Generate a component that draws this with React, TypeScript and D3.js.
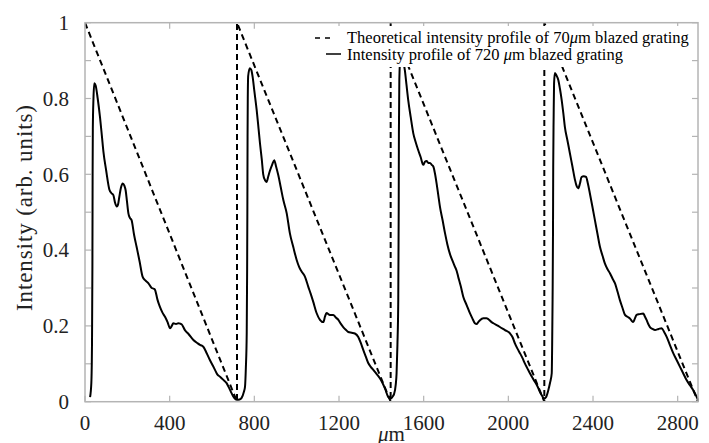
import React from "react";
import * as d3 from "d3";

// Theoretical sawtooth (dashed) breakpoints
const theoX = [0, 718, 718, 1444, 1444, 2170, 2170, 2896];
const theoY = [1, 0, 1, 0, 1, 0, 1, 0];

// Measured intensity profile (solid)
const solidX = [
  24, 30, 33, 35, 36, 37, 40, 44, 50, 60, 71, 80, 87, 100, 115, 125, 134, 142, 150, 156, 162, 170, 178, 186, 192, 198,
  205, 212, 220, 232, 244, 258, 272, 285, 299, 315, 325, 331, 342, 354, 366, 378, 390, 402, 410, 417, 430, 441, 450,
  457, 472, 490, 512, 530, 543, 552, 559, 575, 590, 605, 614, 625, 638, 655, 669, 680, 693, 705, 717, 730, 740, 750,
  756, 760, 764, 766, 767, 768, 769, 771, 779, 786, 792, 800, 811, 820, 827, 835, 842, 850, 858, 866, 874, 884, 894,
  903, 913, 925, 937, 953, 968, 984, 1000, 1012, 1024, 1039, 1055, 1066, 1078, 1094, 1110, 1126, 1134, 1141, 1157,
  1173, 1185, 1197, 1208, 1220, 1232, 1244, 1260, 1275, 1291, 1303, 1315, 1327, 1338, 1350, 1362, 1378, 1393, 1405,
  1417, 1433, 1444, 1455, 1460, 1468, 1472, 1476, 1480, 1482, 1483, 1485, 1490, 1496, 1503, 1511, 1519, 1527, 1539,
  1551, 1562, 1574, 1586, 1598, 1606, 1614, 1622, 1630, 1638, 1646, 1654, 1661, 1669, 1677, 1689, 1701, 1712, 1724,
  1736, 1748, 1756, 1763, 1775, 1787, 1803, 1819, 1830, 1842, 1850, 1858, 1866, 1882, 1897, 1905, 1921, 1929, 1952,
  1960, 1984, 2008, 2020, 2031, 2043, 2055, 2067, 2078, 2090, 2102, 2114, 2126, 2138, 2149, 2160, 2168, 2178, 2189,
  2197, 2205, 2207, 2209, 2211, 2212, 2214, 2216, 2220, 2228, 2236, 2244, 2252, 2260, 2267, 2279, 2291, 2303, 2315,
  2322, 2330, 2338, 2346, 2356, 2367, 2376, 2385, 2397, 2409, 2421, 2433, 2445, 2456, 2468, 2480, 2492, 2504, 2516,
  2527, 2539, 2551, 2563, 2574, 2582, 2590, 2598, 2606, 2620, 2637, 2645, 2653, 2661, 2669, 2681, 2693, 2710, 2724,
  2736, 2748, 2763, 2779, 2795, 2811, 2826, 2842, 2857, 2873, 2885, 2896,
];
const solidY = [
  0.012, 0.05, 0.15, 0.36, 0.6, 0.72, 0.8, 0.84, 0.835, 0.8, 0.75, 0.7, 0.66, 0.61, 0.56, 0.55, 0.545, 0.525, 0.515,
  0.52, 0.54, 0.565, 0.576, 0.57, 0.558, 0.53, 0.497, 0.485, 0.479, 0.44, 0.408, 0.37, 0.33, 0.32, 0.313, 0.3, 0.298,
  0.295, 0.27, 0.25, 0.235, 0.224, 0.21, 0.194, 0.2, 0.207, 0.205, 0.207, 0.206, 0.204, 0.189, 0.178, 0.163, 0.155,
  0.15, 0.148, 0.145, 0.128, 0.11, 0.094, 0.084, 0.072, 0.066, 0.057, 0.049, 0.037, 0.022, 0.01, 0.005, 0.006, 0.01,
  0.025, 0.04, 0.09, 0.18, 0.35, 0.5, 0.7, 0.8, 0.86, 0.88, 0.875, 0.857, 0.82, 0.77, 0.72, 0.68, 0.64, 0.6, 0.585,
  0.58, 0.595, 0.61, 0.625, 0.637, 0.62, 0.598, 0.565, 0.532, 0.497, 0.444, 0.408, 0.374, 0.355, 0.343, 0.33, 0.303,
  0.285, 0.264, 0.234, 0.216, 0.21, 0.225, 0.234, 0.229, 0.229, 0.222, 0.216, 0.206, 0.197, 0.19, 0.184, 0.182, 0.18,
  0.171, 0.155, 0.136, 0.118, 0.102, 0.092, 0.084, 0.073, 0.062, 0.05, 0.035, 0.012, 0.008, 0.015, 0.02, 0.045, 0.075,
  0.15, 0.27, 0.5, 0.71, 0.85, 0.91, 0.92, 0.9, 0.875, 0.835, 0.796, 0.75, 0.708, 0.685, 0.664, 0.645, 0.625, 0.633,
  0.635, 0.63, 0.63, 0.625, 0.62, 0.6, 0.576, 0.545, 0.514, 0.48, 0.444, 0.415, 0.39, 0.372, 0.356, 0.345, 0.33,
  0.305, 0.277, 0.255, 0.233, 0.22, 0.207, 0.205, 0.21, 0.215, 0.22, 0.22, 0.218, 0.21, 0.207, 0.2, 0.197, 0.189,
  0.18, 0.17, 0.154, 0.14, 0.128, 0.115, 0.101, 0.088, 0.075, 0.063, 0.052, 0.04, 0.026, 0.015, 0.008, 0.012, 0.031,
  0.05, 0.075, 0.15, 0.27, 0.45, 0.62, 0.75, 0.84, 0.867, 0.86, 0.849, 0.825, 0.796, 0.76, 0.725, 0.69, 0.655, 0.62,
  0.585, 0.57, 0.563, 0.575, 0.593, 0.595, 0.593, 0.575, 0.55, 0.515, 0.479, 0.443, 0.408, 0.385, 0.365, 0.35, 0.339,
  0.325, 0.312, 0.29, 0.268, 0.248, 0.229, 0.224, 0.22, 0.214, 0.21, 0.22, 0.229, 0.231, 0.233, 0.225, 0.216, 0.205,
  0.197, 0.192, 0.189, 0.192, 0.194, 0.184, 0.171, 0.15, 0.128, 0.11, 0.092, 0.075, 0.057, 0.044, 0.031, 0.018, 0.005,
];

const xTicks = [0, 400, 800, 1200, 1600, 2000, 2400, 2800];
const yMinorTicks = [0, 0.1, 0.2, 0.3, 0.4, 0.5, 0.6, 0.7, 0.8, 0.9, 1];
const yLabels = [0, 0.2, 0.4, 0.6, 0.8, 1];
const legendLabels = ["Theoretical intensity profile of 70", "Intensity profile of 720 "];

const W = 709;
const H = 443;
const L = 85;
const R = 698;
const T = 22.7;
const B = 401.7;
const FONT = "Liberation Serif, Times New Roman, DejaVu Serif, serif";
const fs = (size: number, italic = false): React.CSSProperties => ({
  fontFamily: FONT,
  fontSize: size + "px",
  fontStyle: italic ? "italic" : "normal",
});

export default function App() {
  const x = d3.scaleLinear().domain([0, 2896]).range([L, R]);
  const y = d3.scaleLinear().domain([0, 1]).range([B, T]);

  const theo = theoX.map((v, i) => [v, theoY[i]] as [number, number]);
  const solid = solidX.map((v, i) => [v, solidY[i]] as [number, number]);

  const lineLin = d3
    .line<[number, number]>()
    .x((d) => x(d[0]))
    .y((d) => y(d[1]));
  const lineSmooth = d3
    .line<[number, number]>()
    .x((d) => x(d[0]))
    .y((d) => y(d[1]))
    .curve(d3.curveMonotoneX);

  const gray = "#b4b4b4";
  const fmt = (v: number) => (v === 0 || v === 1 ? String(v) : v.toFixed(1));

  return (
    <svg width={W} height={H} style={{ position: "absolute", left: 0, top: 0, background: "#fff" }}>
      <rect x={0} y={0} width={W} height={H} fill="#fff" />
      <defs>
        <clipPath id="plot">
          <rect x={L} y={T - 1} width={R - L + 1} height={B - T + 2} />
        </clipPath>
      </defs>

      {/* ticks */}
      {xTicks.map((t) => (
        <g key={"xt" + t}>
          <line x1={x(t)} x2={x(t)} y1={B} y2={B - 6} stroke={gray} strokeWidth={1.2} />
          <line x1={x(t)} x2={x(t)} y1={T} y2={T + 6} stroke={gray} strokeWidth={1.2} />
        </g>
      ))}
      {yMinorTicks.map((t) => (
        <g key={"yt" + t}>
          <line x1={L} x2={L + 6} y1={y(t)} y2={y(t)} stroke={gray} strokeWidth={1.2} />
          <line x1={R} x2={R - 6} y1={y(t)} y2={y(t)} stroke={gray} strokeWidth={1.2} />
        </g>
      ))}

      {/* data */}
      <g clipPath="url(#plot)">
        <path d={lineSmooth(solid) || ""} fill="none" stroke="#000" strokeWidth={2} strokeLinejoin="round" />
        <path d={lineLin(theo) || ""} fill="none" stroke="#000" strokeWidth={2} strokeDasharray="6,4" />
      </g>

      {/* legend */}
      <rect x={306} y={26} width={385} height={41} fill="#fff" />
      <line x1={315} x2={331} y1={38} y2={38} stroke="#000" strokeWidth={1.5} strokeDasharray="5,5" />
      <line x1={326} x2={341} y1={54} y2={54} stroke="#000" strokeWidth={1.5} />
      <text x={347} y={43} style={fs(16.5)} fill="#000">
        {legendLabels[0]}
        <tspan style={fs(16.5, true)}>μ</tspan>m blazed grating
      </text>
      <text x={347} y={60} style={fs(16.5)} fill="#000">
        {legendLabels[1]}
        <tspan style={fs(16.5, true)}>μ</tspan>m blazed grating
      </text>

      {/* frame */}
      <rect x={L} y={T} width={R - L} height={B - T} fill="none" stroke={gray} strokeWidth={1.5} />

      {/* tick labels */}
      {xTicks.map((t) => (
        <text key={"xl" + t} x={x(t)} y={430} style={fs(21)} textAnchor="middle" fill="#222">
          {t}
        </text>
      ))}
      {yLabels.map((t) => (
        <text key={"yl" + t} x={69} y={y(t)} dy="0.35em" style={fs(21)} textAnchor="end" fill="#222">
          {fmt(t)}
        </text>
      ))}

      {/* axis titles */}
      <text x={(L + R) / 2} y={441} style={fs(21)} textAnchor="middle" fill="#222">
        <tspan style={fs(21, true)}>μ</tspan>m
      </text>
      <text
        transform={`translate(31.5, 208) rotate(-90)`}
        style={fs(23)}
        textAnchor="middle"
        textLength={206}
        lengthAdjust="spacing"
        fill="#222"
      >
        Intensity (arb. units)
      </text>
    </svg>
  );
}
